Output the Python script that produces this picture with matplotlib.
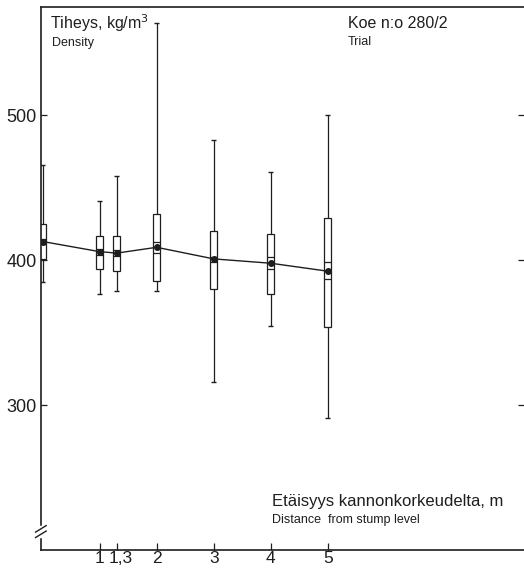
import matplotlib.pyplot as plt
import matplotlib.transforms as mtransforms
import numpy as np

plt.rcParams['font.family'] = ['Liberation Sans', 'DejaVu Sans']

# distance from stump level (m) and density statistics (kg/m3)
etaisyys = [0, 1, 1.3, 2, 3, 4, 5]
keskiarvo = [413, 406, 405, 409, 401, 398, 392.5]
q_ala = [401, 394, 392.5, 385.5, 380.5, 377, 354]
q_yla = [425, 417, 416.5, 432, 420.5, 418.5, 429]
minimi = [385, 377, 378.5, 378.5, 316, 355, 291]
maksimi = [466, 441, 458.5, 564, 483, 461, 500.5]
ci_ala = [411, 404, 403, 405, 399, 394, 387]
ci_yla = [415, 408, 407, 413, 402.5, 402, 399]

x_ticks = [1, 1.3, 2, 3, 4, 5]
x_labels = ['1', '1,3', '2', '3', '4', '5']
y_ticks = [300, 400, 500]

ink = '#1e1e1e'

fig = plt.figure(figsize=(5.24, 5.70), dpi=100)
ax = fig.add_axes([0.078, 0.035, 0.922, 0.953])

x = np.array(etaisyys)
lo = np.array(q_ala)
hi = np.array(q_yla)

# boxes
ax.bar(x, hi - lo, bottom=lo, width=0.12, fill=False, edgecolor=ink, linewidth=0.9, zorder=3)
# whiskers and caps
ax.vlines(x, minimi, lo, color=ink, linewidth=0.9, zorder=2)
ax.vlines(x, hi, maksimi, color=ink, linewidth=0.9, zorder=2)
ax.hlines(minimi, x - 0.045, x + 0.045, color=ink, linewidth=1.0)
ax.hlines(maksimi, x - 0.045, x + 0.045, color=ink, linewidth=1.0)
# interval lines inside the boxes
ax.hlines(ci_ala, x - 0.06, x + 0.06, color=ink, linewidth=0.9, zorder=3)
ax.hlines(ci_yla, x - 0.06, x + 0.06, color=ink, linewidth=0.9, zorder=3)
# means
ax.plot(x, keskiarvo, color=ink, linewidth=1.0, marker='o', markersize=4,
        markerfacecolor=ink, markeredgecolor=ink, zorder=4)

ax.set_xlim(-0.03, 8.44)
ax.set_ylim(200, 575)

ax.spines['right'].set_visible(False)
for s in ['left', 'bottom', 'top']:
    ax.spines[s].set_color(ink)
    ax.spines[s].set_linewidth(1.2)

ax.set_xticks(x_ticks)
ax.set_xticklabels(x_labels)
ax.set_yticks(y_ticks)
ax.tick_params(axis='x', direction='in', length=5, width=0.9, color=ink,
               labelsize=12.5, labelcolor=ink, pad=1)
ax.tick_params(axis='y', direction='in', length=4, width=0.9, color=ink,
               labelsize=13, labelcolor=ink, pad=3, right=True)

# keep "1" and "1,3" apart
lbl = ax.get_xticklabels()[1]
lbl.set_transform(lbl.get_transform() + mtransforms.ScaledTranslation(3 / 72, 0, fig.dpi_scale_trans))

# axis break on the left spine
ax.plot([0, 0], [0.026, 0.042], transform=ax.transAxes, color='white',
        linewidth=2.5, clip_on=False, zorder=4)
for yb in [0.029, 0.039]:
    ax.plot([-0.011, 0.011], [yb - 0.006, yb + 0.006], transform=ax.transAxes,
            color=ink, linewidth=1.0, clip_on=False, zorder=5)

# titles
ax.text(0.018, 0.95, 'Tiheys, kg/m$^3$', transform=ax.transAxes, fontsize=11.5,
        color=ink, va='bottom')
ax.text(0.022, 0.922, 'Density', transform=ax.transAxes, fontsize=9,
        color=ink, va='bottom')
ax.text(0.635, 0.956, 'Koe n:o 280/2', transform=ax.transAxes, fontsize=11.5,
        color=ink, va='bottom')
ax.text(0.635, 0.924, 'Trial', transform=ax.transAxes, fontsize=9,
        color=ink, va='bottom')
ax.text(0.478, 0.076, 'Etäisyys kannonkorkeudelta, m', transform=ax.transAxes,
        fontsize=12, color=ink, va='bottom')
ax.text(0.478, 0.045, 'Distance  from stump level', transform=ax.transAxes,
        fontsize=9, color=ink, va='bottom')

fig.savefig('out.png', dpi=100)
